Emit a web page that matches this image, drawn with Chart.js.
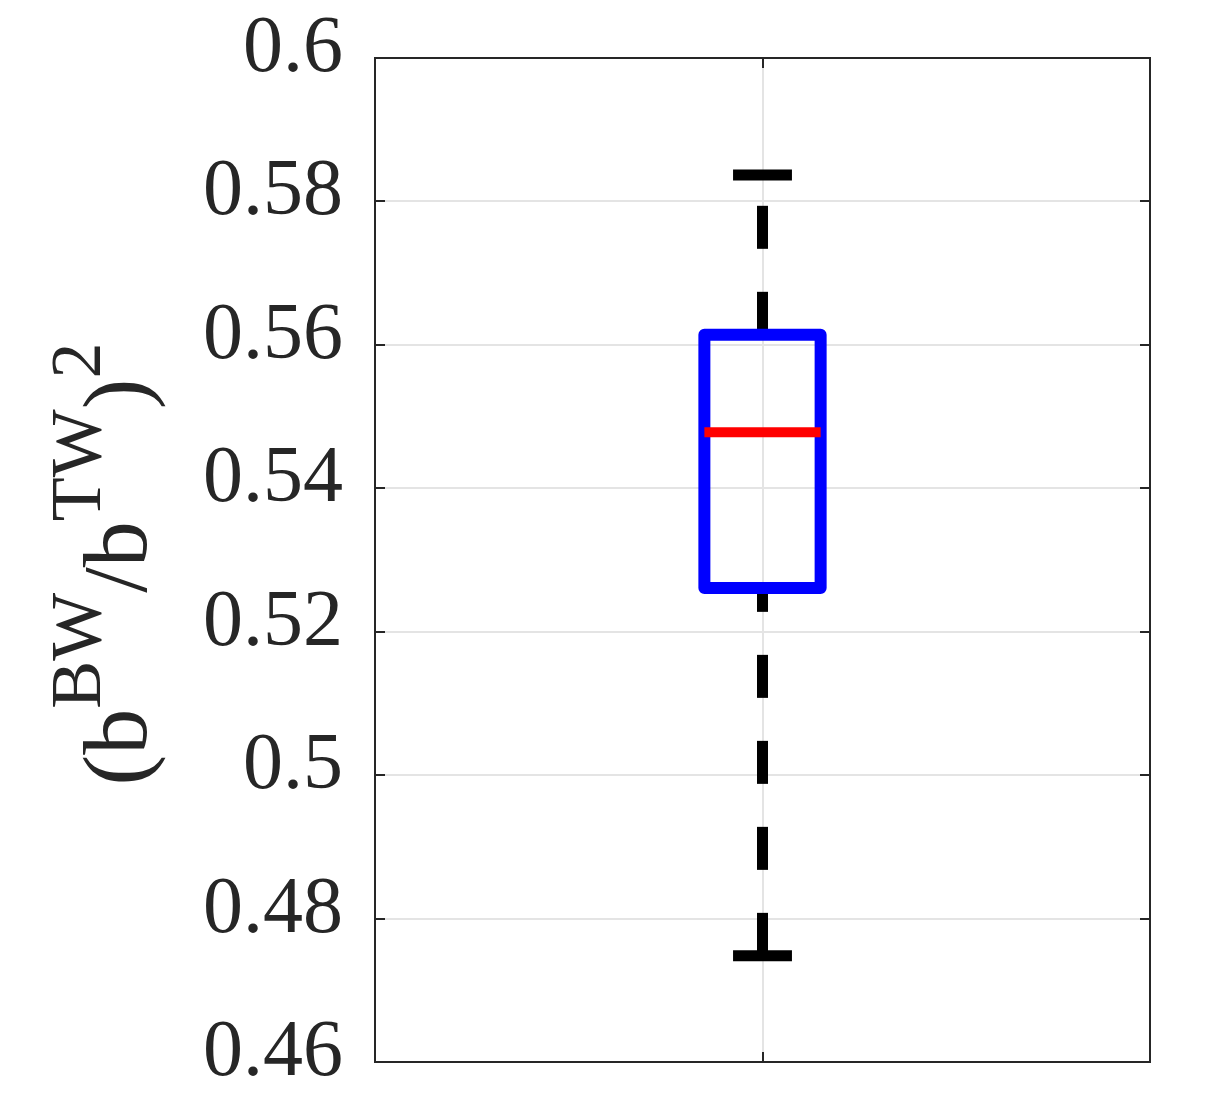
<!DOCTYPE html>
<html><head><meta charset="utf-8">
<script src="https://cdn.jsdelivr.net/npm/chart.js@4.4.1/dist/chart.umd.min.js"></script>
<style>html,body{margin:0;padding:0;background:#fff;}#wrap{width:1214px;height:1113px;position:relative;}</style>
</head><body><div id="wrap"><canvas id="c"></canvas></div>
<script>
// ---- data ----
const categories = ['1'];
const whiskerLow = [0.4748];
const q1 = [0.5261];
const median = [0.5478];
const q3 = [0.5614];
const whiskerHigh = [0.5837];
const yTickValues = [0.46, 0.48, 0.5, 0.52, 0.54, 0.56, 0.58, 0.6];
const yTickLabels = ['0.46', '0.48', '0.5', '0.52', '0.54', '0.56', '0.58', '0.6'];
const yTitleParts = ['(', 'b', '^BW', '/', 'b', '^TW', ')', '^2'];

// ---- styling ----
const FRAME = '#262626';
const GRID = '#e4e4e4';
const SERIF = '"Liberation Serif", "DejaVu Serif", serif';
const BOX_HALF = 0.075, CAP_HALF = 0.038;

const datasets = [];
categories.forEach((c, i) => {
  const cx = i + 1;
  datasets.push({ label: 'lower whisker', data: [{x: cx, y: whiskerLow[i]}, {x: cx, y: q1[i]}],
    borderColor: '#000', borderWidth: 11, borderDash: [43, 43], borderCapStyle: 'butt', order: 3 });
  datasets.push({ label: 'upper whisker', data: [{x: cx, y: q3[i]}, {x: cx, y: whiskerHigh[i]}],
    borderColor: '#000', borderWidth: 11, borderDash: [43, 43], borderCapStyle: 'butt', order: 3 });
  datasets.push({ label: 'lower cap', data: [{x: cx - CAP_HALF, y: whiskerLow[i]}, {x: cx + CAP_HALF, y: whiskerLow[i]}],
    borderColor: '#000', borderWidth: 11, borderCapStyle: 'butt', order: 2 });
  datasets.push({ label: 'upper cap', data: [{x: cx - CAP_HALF, y: whiskerHigh[i]}, {x: cx + CAP_HALF, y: whiskerHigh[i]}],
    borderColor: '#000', borderWidth: 11, borderCapStyle: 'butt', order: 2 });
  datasets.push({ label: 'box', data: [
      {x: cx, y: q1[i]}, {x: cx - BOX_HALF, y: q1[i]}, {x: cx - BOX_HALF, y: q3[i]},
      {x: cx + BOX_HALF, y: q3[i]}, {x: cx + BOX_HALF, y: q1[i]}, {x: cx, y: q1[i]}],
    borderColor: '#0000ff', borderWidth: 12, borderJoinStyle: 'round', borderCapStyle: 'butt', order: 1 });
  datasets.push({ label: 'median', data: [{x: cx - BOX_HALF, y: median[i]}, {x: cx + BOX_HALF, y: median[i]}],
    borderColor: '#ff0000', borderWidth: 10, borderCapStyle: 'butt', order: 0 });
});
datasets.forEach(d => { d.showLine = true; d.pointRadius = 0; d.pointHoverRadius = 0; d.fill = false; d.tension = 0; });

const gridCommon = { color: GRID, lineWidth: 2, tickLength: -10, tickColor: FRAME, tickWidth: 2 };
const borderCommon = { color: FRAME, width: 2 };
const noPad = s => { s.paddingTop = 0; s.paddingBottom = 0; s.paddingLeft = 0; s.paddingRight = 0; };

const yTitlePlugin = {
  id: 'yTitle',
  afterDraw(chart) {
    const ctx = chart.ctx, area = chart.chartArea;
    const baseFont = '92px ' + SERIF, supFont = '72px ' + SERIF;
    ctx.save();
    let total = 0;
    const parts = yTitleParts.map(p => {
      const sup = p.startsWith('^');
      const t = sup ? p.slice(1) : p;
      ctx.font = sup ? supFont : baseFont;
      const w = ctx.measureText(t).width;
      total += w;
      return {t, sup, w};
    });
    ctx.translate(146, (area.top + area.bottom) / 2 + 4);
    ctx.rotate(-Math.PI / 2);
    ctx.fillStyle = FRAME;
    ctx.textBaseline = 'alphabetic';
    ctx.textAlign = 'left';
    let x = -total / 2;
    parts.forEach(p => {
      ctx.font = p.sup ? supFont : baseFont;
      ctx.fillText(p.t, x, p.sup ? -46 : 0);
      x += p.w;
    });
    ctx.restore();
  }
};

new Chart(document.getElementById('c'), {
  type: 'scatter',
  data: { datasets },
  options: {
    responsive: true, maintainAspectRatio: false, animation: false,
    layout: { padding: 0 },
    plugins: { legend: { display: false }, tooltip: { enabled: false } },
    scales: {
      x: {
        type: 'linear', position: 'bottom', min: 0.5, max: 1.5,
        afterBuildTicks: s => { s.ticks = categories.map((c, i) => ({ value: i + 1 })); },
        ticks: { display: false },
        grid: gridCommon, border: borderCommon,
        afterFit: s => { s.height = 51; noPad(s); }
      },
      x2: {
        type: 'linear', position: 'top', min: 0.5, max: 1.5,
        afterBuildTicks: s => { s.ticks = categories.map((c, i) => ({ value: i + 1 })); },
        ticks: { display: false },
        grid: Object.assign({}, gridCommon, { drawOnChartArea: false }), border: borderCommon,
        afterFit: s => { s.height = 58; noPad(s); }
      },
      y: {
        type: 'linear', position: 'left', min: 0.46, max: 0.6,
        afterBuildTicks: s => { s.ticks = yTickValues.map(v => ({ value: v })); },
        ticks: {
          autoSkip: false, padding: 42, labelOffset: -8, color: FRAME,
          font: { family: SERIF, size: 80 },
          callback: (v, i) => yTickLabels[i]
        },
        grid: gridCommon, border: borderCommon,
        afterFit: s => { s.width = 375; noPad(s); }
      },
      y2: {
        type: 'linear', position: 'right', min: 0.46, max: 0.6,
        afterBuildTicks: s => { s.ticks = yTickValues.map(v => ({ value: v })); },
        ticks: { display: false },
        grid: Object.assign({}, gridCommon, { drawOnChartArea: false }), border: borderCommon,
        afterFit: s => { s.width = 64; noPad(s); }
      }
    }
  },
  plugins: [yTitlePlugin]
});
</script>
</body></html>
